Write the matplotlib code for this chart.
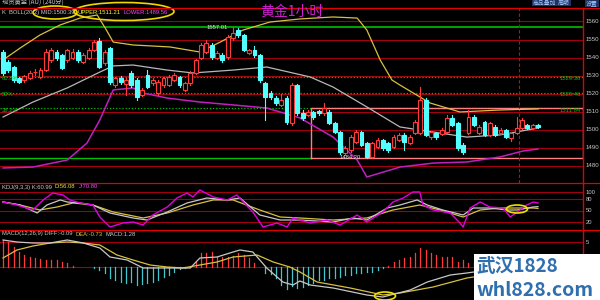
import matplotlib
matplotlib.use('Agg')
import matplotlib.pyplot as plt
from matplotlib.patches import Rectangle, Ellipse

plt.rcParams['font.family'] = ['Noto Sans CJK SC', 'DejaVu Sans']

# ---------------- data ----------------
opens = [1543.1, 1537.6, 1534.8, 1528.7, 1527.6, 1528.7, 1532.0, 1529.3, 1533.1, 1538.7,
         1543.1, 1541.5, 1538.7, 1539.8, 1543.1, 1537.6, 1539.8, 1544.2, 1549.0, 1537.0,
         1545.3, 1524.8, 1528.7, 1525.4, 1531.5, 1527.6, 1519.3, 1530.4, 1526.0, 1520.4,
         1524.8, 1525.0, 1527.6, 1529.3, 1522.1, 1525.9, 1531.5, 1539.8, 1543.1, 1547.0,
         1539.8, 1541.5, 1540.3, 1550.9, 1555.3, 1552.5, 1542.6, 1544.2, 1541.5, 1525.9,
         1520.4, 1517.6, 1513.8, 1517.6, 1503.8, 1524.8, 1509.3, 1508.2, 1509.9, 1510.2,
         1509.3, 1509.9, 1503.8, 1498.8, 1487.2, 1488.8, 1493.3, 1498.8, 1492.7, 1485.0,
         1490.5, 1494.4, 1492.7, 1490.5, 1494.4, 1497.2, 1492.7, 1498.3, 1498.3, 1516.5,
         1496.0, 1498.3, 1497.7, 1498.8, 1506.6, 1503.8, 1491.6, 1498.3, 1507.1, 1498.3,
         1504.4, 1497.2, 1501.6, 1498.3, 1499.9, 1495.5, 1498.3, 1501.0, 1502.7, 1501.0,
         1502.7]
highs = [1544.0, 1538.5, 1535.5, 1529.5, 1530.5, 1532.5, 1533.5, 1534.0, 1544.5, 1545.3,
         1544.0, 1542.0, 1545.0, 1544.5, 1544.0, 1542.5, 1545.3, 1550.0, 1551.0, 1544.0,
         1546.0, 1529.5, 1530.0, 1528.5, 1532.5, 1528.5, 1523.0, 1533.1, 1528.5, 1527.5,
         1529.5, 1530.5, 1531.5, 1530.0, 1526.5, 1532.5, 1539.5, 1548.0, 1549.5, 1548.0,
         1543.5, 1542.5, 1552.5, 1557.01, 1556.5, 1553.0, 1545.0, 1546.5, 1542.0, 1526.5,
         1521.5, 1518.5, 1520.0, 1518.5, 1526.0, 1525.5, 1511.0, 1511.0, 1510.5, 1511.0,
         1514.9, 1511.0, 1504.5, 1499.5, 1491.0, 1497.0, 1500.0, 1499.5, 1493.5, 1493.5,
         1495.5, 1495.0, 1493.5, 1497.0, 1498.5, 1498.0, 1497.0, 1505.5, 1523.7, 1517.5,
         1499.5, 1499.0, 1501.0, 1508.2, 1508.0, 1504.5, 1492.5, 1511.0, 1508.0, 1502.5,
         1505.0, 1504.5, 1502.5, 1501.0, 1500.5, 1499.0, 1507.1, 1506.5, 1503.5, 1503.5,
         1503.0]
lows = [1530.5, 1532.0, 1526.5, 1525.9, 1526.5, 1528.0, 1530.5, 1528.5, 1532.5, 1537.6,
        1538.7, 1533.5, 1537.6, 1539.0, 1537.6, 1537.0, 1539.0, 1543.5, 1534.0, 1536.0,
        1525.5, 1523.5, 1525.5, 1519.3, 1524.0, 1516.5, 1518.5, 1523.0, 1525.0, 1519.5,
        1524.0, 1524.5, 1527.0, 1524.0, 1521.5, 1525.0, 1531.0, 1539.0, 1542.5, 1539.5,
        1539.0, 1537.5, 1539.5, 1550.0, 1551.5, 1543.5, 1542.0, 1540.5, 1526.5, 1505.5,
        1517.0, 1514.0, 1513.0, 1503.5, 1502.5, 1508.0, 1505.5, 1507.5, 1506.0, 1508.5,
        1508.5, 1503.0, 1498.0, 1486.5, 1486.0, 1488.0, 1492.5, 1491.0, 1484.2, 1484.5,
        1490.0, 1489.0, 1488.0, 1490.0, 1494.0, 1488.8, 1492.0, 1497.5, 1497.5, 1496.5,
        1495.0, 1495.0, 1497.0, 1498.0, 1502.0, 1489.0, 1486.5, 1497.5, 1502.0, 1497.5,
        1496.5, 1496.5, 1496.5, 1497.5, 1495.5, 1494.0, 1497.5, 1500.5, 1500.5, 1500.5,
        1501.0]
closes = [1531.5, 1533.1, 1527.6, 1526.5, 1529.8, 1531.5, 1532.2, 1533.1, 1543.1, 1544.2,
          1539.8, 1534.3, 1544.2, 1543.1, 1538.7, 1541.5, 1544.2, 1548.6, 1534.8, 1543.1,
          1526.5, 1528.7, 1526.5, 1527.6, 1524.8, 1518.2, 1522.1, 1523.7, 1527.6, 1526.5,
          1528.7, 1529.3, 1530.4, 1524.8, 1525.9, 1531.5, 1538.7, 1547.0, 1548.1, 1540.3,
          1542.6, 1538.7, 1551.4, 1553.6, 1552.5, 1544.2, 1544.2, 1541.5, 1527.6, 1518.2,
          1518.2, 1514.9, 1516.5, 1504.4, 1524.8, 1509.3, 1506.6, 1509.9, 1507.1, 1509.6,
          1512.1, 1503.8, 1498.8, 1487.7, 1490.0, 1496.0, 1498.8, 1491.6, 1484.9, 1492.7,
          1494.4, 1490.0, 1488.8, 1496.0, 1497.2, 1493.3, 1496.0, 1504.4, 1516.5, 1497.2,
          1498.8, 1496.0, 1499.9, 1506.6, 1502.7, 1490.0, 1487.7, 1507.1, 1502.7, 1501.6,
          1497.2, 1503.8, 1497.2, 1499.9, 1496.0, 1498.3, 1501.0, 1505.5, 1501.0, 1502.7,
          1501.6]

# Bollinger band traces (candle index, price)
upper_idx = [0, 3.2, 6.9, 10.7, 14.4, 17.6, 19.1, 20.6, 24.3, 31.2, 36.8, 40.6, 44.9, 49.9,
             55.5, 61.7, 66.2, 68.0, 70.5, 72.7, 74.2, 79.8, 85.4, 92.9, 100]
upper_val = [1538.7, 1545.3, 1552.5, 1558.1, 1561.9, 1563.6, 1556.4, 1548.6, 1547.0, 1545.9,
             1543.1, 1548.6, 1555.3, 1559.7, 1561.4, 1562.5, 1561.9, 1555.3, 1538.7, 1527.6,
             1524.8, 1514.9, 1509.9, 1511.0, 1511.6]
mid_idx = [0, 5.6, 12.0, 18.1, 20.6, 24.3, 30.7, 35.5, 43.0, 49.3, 57.4, 61.7, 68.0, 74.2,
           80.4, 86.7, 92.9, 100]
mid_val = [1507.1, 1515.4, 1523.2, 1532.0, 1535.4, 1535.9, 1533.1, 1531.5, 1533.1, 1534.8,
           1529.3, 1523.7, 1512.7, 1501.6, 1498.8, 1496.0, 1497.2, 1501.0]
lower_idx = [0, 5.6, 12.0, 15.7, 18.1, 20.6, 24.3, 26.2, 30.7, 36.8, 43.0, 49.3, 55.5, 61.7,
             66.2, 68.0, 74.2, 80.4, 86.7, 92.9, 97.2, 100]
lower_val = [1478.9, 1479.4, 1483.3, 1492.7, 1505.5, 1522.1, 1523.2, 1520.4, 1517.6, 1515.4,
             1513.8, 1512.1, 1506.6, 1496.0, 1483.3, 1473.9, 1479.4, 1481.6, 1482.2, 1485.0,
             1488.3, 1489.4]

fib_high, fib_low = 1557.01, 1484.20
fib_levels = [1529.36, 1520.46, 1511.84]
fib_names = ['61.8%', '50%', '38.2%']
box_top = 1512.0
price_ticks = [1560, 1550, 1540, 1530, 1520, 1510, 1500, 1490, 1480]

# KDJ (candle index, value)
j_idx = [0, 2.6, 5.6, 7.5, 9.3, 11.2, 12.5, 14.4, 16.8, 18.1, 20.0, 22.4, 24.3, 26.2, 28.0,
         30.7, 32.5, 34.4, 35.5, 36.8, 39.3, 41.9, 43.7, 44.9, 46.7, 48.6, 51.2, 53.1, 54.2,
         55.5, 57.4, 60.6, 63.0, 66.2, 68.0, 71.0, 72.9, 74.8, 76.6, 77.9, 78.5, 80.4, 83.6,
         85.4, 86.0, 87.3, 89.2, 91.0, 93.5, 94.8, 96.1, 97.9, 99.1, 100]
j_val = [73.3, 65.3, 52, 78.7, 97.3, 92, 78.7, 70.7, 65.3, 33.3, 6.7, 17.3, 20, 12, 38.7,
         60, 84, 97.3, 86.7, 105.3, 86.7, 78.7, 92, 73.3, 46.7, 6.7, 17.3, 6.7, 30.7,
         25.3, 17.3, 25.3, 12, 38.7, 20, 46.7, 73.3, 84, 100, 100, 65.3, 52, 44,
         17.3, 6.7, 57.3, 73.3, 60, 57.3, 33.3, 46.7, 65.3, 73.3, 70.8]
k_idx = [0, 3.2, 6.4, 8.2, 10.7, 12.0, 14.4, 16.8, 20.0, 24.3, 26.9, 30.7, 34.4, 38.1, 41.9,
         44.3, 48.0, 51.8, 55.5, 61.7, 65.4, 68.0, 71.8, 74.2, 77.4, 79.3, 82.2, 86.0, 87.9,
         91.0, 94.2, 96.1, 99.1, 100]
k_val = [73.3, 65.3, 44, 65.3, 78.7, 73.3, 70.7, 65.3, 44, 30.7, 25.3, 46.7, 70.7, 84, 78.7,
         84, 38.7, 25.3, 25.3, 20, 30.7, 25.3, 57.3, 65.3, 78.7, 65.3, 52, 38.7, 57.3,
         57.3, 52, 52, 60, 60.99]
d_idx = [0, 3.2, 6.9, 10.1, 13.1, 16.8, 20.6, 26.2, 30.7, 35.5, 39.3, 43.0, 48.0, 51.8,
         55.5, 61.7, 68.0, 72.9, 77.9, 81.7, 86.0, 89.2, 92.9, 96.6, 99.1, 100]
d_val = [73.3, 65.3, 52, 60, 70.7, 65.3, 46.7, 30.7, 44, 65.3, 78.7, 78.7, 52, 33.3,
         30.7, 25.3, 30.7, 52, 65.3, 52, 33.3, 52, 57.3, 57.3, 57.3, 56.08]
kdj_ticks = [100, 80, 50, 20]

# MACD
diff_idx = [0, 2.6, 5.6, 8.8, 12.0, 15.0, 18.1, 20.0, 23.2, 26.2, 30.7, 35.0, 36.8, 40.0,
            43.0, 44.3, 46.7, 49.3, 52.3, 54.2, 55.5, 57.4, 61.7, 68.0, 71.0, 76.1, 79.3,
            83.6, 86.7, 88.0, 92.9, 100]
diff_val = [5.4, 5.0, 4.8, 4.8, 5.4, 4.8, 3.8, 2.0, 1.4, -0.2, -0.2, -0.2, 1.8, 2.0,
            3.0, 3.4, 3.0, -0.2, -3.0, -3.6, -2.8, -3.6, -4.2, -5.6, -6.0, -4.6, -3.0,
            -1.6, -1.2, -1.0, -0.5, -0.09]
dea_idx = [0, 2.6, 5.6, 8.8, 12.0, 15.0, 18.1, 21.3, 24.3, 27.5, 30.7, 33.6, 36.8, 40.0,
           43.0, 47.5, 50.5, 53.6, 55.5, 58.7, 64.9, 71.0, 74.2, 80.4, 86.7, 87.9, 92.9, 100]
dea_val = [1.8, 3.4, 4.2, 4.8, 5.0, 4.8, 4.4, 2.4, 1.4, 0.4, 0.0, -0.2, 0.4, 1.0,
           2.0, 2.4, 1.0, 0.0, -1.0, -3.0, -4.2, -5.6, -5.2, -4.0, -2.2, -2.0, -1.2, -0.73]
macd_hist = [5.4, 5.0, 4.0, 3.0, 2.4, 2.0, 1.8, 1.6, 1.4, 1.4,
             1.4, 1.0, 0.8, 0.3, 0.1, 0.1, 0.1, -0.1, -0.6, -1.2,
             -2.2, -2.6, -3.0, -3.2, -3.0, -3.6, -3.4, -3.2, -3.0, -2.6,
             -2.0, -1.6, -1.0, -0.4, -0.2, 0.2, 1.0, 2.8, 2.8, 3.0,
             2.0, 2.0, 2.0, 2.2, 2.8, 2.4, 1.8, 0.8, 0.1, -1.2,
             -1.4, -2.2, -3.6, -4.4, -3.8, -4.2, -4.0, -3.6, -3.2, -2.6,
             -2.6, -2.2, -2.2, -2.0, -1.6, -1.6, -1.2, -1.2, -1.0, -1.0,
             -0.6, -0.2, 0.2, 1.0, 1.4, 1.8, 2.0, 2.8, 3.8, 3.4,
             2.8, 2.4, 2.0, 2.0, 2.0, 1.0, 1.4, 0.8, 1.0, 0.9,
             0.8, 0.9, 0.8, 0.9, 1.0, 1.1, 1.2, 1.3, 1.3, 1.3,
             1.28]
macd_ticks = [5]

# ---------------- layout ----------------
W, H = 600, 300
X0, X1 = -0.561, 108.41          # candle index range for px 0..583
RED_GRID = '#a00010'
RED_AX = '#e00000'
CYAN = '#54ffff'
UPRED = '#ff3a3a'
YEL = '#d8c040'
MAG = '#e000e0'
WHT = '#c8c8c8'
GRN = '#00c000'
SMALL = ['Liberation Sans', 'DejaVu Sans']

fig = plt.figure(figsize=(6, 3), dpi=100)
fig.patch.set_facecolor('black')


def rect(l, t, r, b):
    return [l / W, 1 - b / H, (r - l) / W, (b - t) / H]


ax = fig.add_axes(rect(0, 8, 583, 182.5))
kd = fig.add_axes(rect(0, 182.5, 583, 229.5))
md = fig.add_axes(rect(0, 229.5, 583, 300))
for a in (ax, kd, md):
    a.set_facecolor('black')
    a.axis('off')
    a.set_xlim(X0, X1)
ax.set_ylim(1470.85, 1567.47)
kd.set_ylim(0, 125.3)
md.set_ylim(-6.6, 7.5)

# main panel grid + drawing tools
for p in price_ticks:
    ax.axhline(p, color=RED_GRID, lw=0.8, zorder=1)
ax.axhline(fib_high, color=GRN, lw=1.2, zorder=1)
ax.plot([X0, 57.5], [fib_low, fib_low], color=GRN, lw=1.0, zorder=1)
for lv in fib_levels:
    ax.axhline(lv, color=GRN, lw=0.9, ls=(0, (1, 1.5)), zorder=1)
ax.plot([57.5, 57.5, X1, X1, 57.5], [fib_low, box_top, box_top, fib_low, fib_low],
        color='#ff8080', lw=1.0, zorder=1)
ax.axvline(96.5, color=RED_AX, lw=0.8, ls=(0, (3, 2)), zorder=1)

# bands
ax.plot(upper_idx, upper_val, color=YEL, lw=0.9, zorder=2)
ax.plot(mid_idx, mid_val, color='#b8b8b8', lw=0.9, zorder=2)
ax.plot(lower_idx, lower_val, color='#c020c0', lw=1.1, zorder=2)

# candles
bw = 0.72
for i, (o, h, l, c) in enumerate(zip(opens, highs, lows, closes)):
    up = c >= o
    col = UPRED if up else CYAN
    ax.plot([i, i], [l, h], color=col, lw=0.8, zorder=3)
    lo, hi = min(o, c), max(o, c)
    ax.add_patch(Rectangle((i - bw / 2, lo), bw, max(hi - lo, 0.25),
                           facecolor='black' if up else CYAN, edgecolor=col,
                           lw=0.8, zorder=4))

# KDJ panel
for v in kdj_ticks:
    kd.axhline(v, color=RED_GRID, lw=0.8)
kd.plot(d_idx, d_val, color=YEL, lw=0.9)
kd.plot(k_idx, k_val, color=WHT, lw=0.9)
kd.plot(j_idx, j_val, color=MAG, lw=1.0)

# MACD panel
for v in macd_ticks:
    md.axhline(v, color=RED_GRID, lw=0.8)
md.axhline(0, color=RED_GRID, lw=0.8)
for i, v in enumerate(macd_hist):
    md.plot([i, i], [0, v], color=UPRED if v >= 0 else '#40c8d0', lw=0.9)
md.plot(dea_idx, dea_val, color=YEL, lw=0.9)
md.plot(diff_idx, diff_val, color=WHT, lw=0.9)

# ---------------- overlay (pixel coordinates) ----------------
ov = fig.add_axes([0, 0, 1, 1])
ov.set_xlim(0, W)
ov.set_ylim(H, 0)
ov.axis('off')

for yy in (7.5, 182.5, 229.5):
    ov.plot([0, 600], [yy, yy], color=RED_AX, lw=0.9)
ov.plot([583, 583], [7.5, 300], color=RED_AX, lw=1.0)

renderer = fig.canvas.get_renderer()


def seq(x, y, parts, fs, gap=2.0):
    """Place coloured text pieces one after another (pixel coords)."""
    for txt, col in parts:
        t = ov.text(x, y, txt, color=col, fontsize=fs, va='center', family=SMALL)
        bb = t.get_window_extent(renderer)
        x += bb.width + gap


fs = 4.2
# header
ov.text(2, 2.5, '现货黄金 (AU) (240分)', color='#c0c0c0', fontsize=4.5, va='center')
seq(2, 12.5, [('K', WHT), ('BOLL(20,2) MID:1500.39', WHT), ('UPPER:1511.21', '#ffff40'),
              ('LOWER:1489.56', '#ff40ff')], fs, gap=3)
ov.add_patch(Ellipse((55, 12.5), 44, 13, fill=False, ec='#f0d800', lw=1.2))
ov.add_patch(Ellipse((124, 11.5), 100, 18, fill=False, ec='#f0d800', lw=1.2))
ov.text(292, 12, '黄金1小时', color='#d020d0', fontsize=10, ha='center', va='center')
for tx, xx in (('商品叠加', 533), ('周期', 558), ('设置', 586)):
    ov.text(xx, 3, tx, color='#a0c8ff', fontsize=4.2, va='center',
            bbox=dict(boxstyle='square,pad=0.15', fc='#203060', ec='none'))

# right axis labels
for p in price_ticks:
    yy = 21.5 + (1560 - p) * 1.806
    ov.text(586, yy, str(p), color='#c8c8c8', fontsize=4.4, va='center', family=SMALL)
for v in kdj_ticks:
    yy = 229.5 - 0.375 * v
    ov.text(586, yy, str(v), color='#c8c8c8', fontsize=4.2, va='center', family=SMALL)
ov.text(586, 242, '5', color='#c8c8c8', fontsize=4.2, va='center', family=SMALL)

# tool labels
for lv, nm in zip(fib_levels, fib_names):
    yy = 21.5 + (1560 - lv) * 1.806
    ov.text(2, yy + 2, nm, color=GRN, fontsize=4.2, va='center', family=SMALL)
    ov.text(581, yy + 2, f'{lv:.2f}', color=GRN, fontsize=4.2, va='center', ha='right',
            family=SMALL)
ov.text(207, 27.5, '1557.01', color='#e0e0e0', fontsize=4.2, va='center', family=SMALL)
ov.text(340, 157.5, '1484.20', color='#e0e0e0', fontsize=4.2, va='center', family=SMALL)

# KDJ / MACD headers
seq(2, 187, [('KDJ(9,3,3) K:60.99', WHT), ('D:56.08', '#e8e040'), ('J:70.80', '#ff40ff')],
    fs, gap=3)
seq(2, 234, [('MACD(12,26,9) DIFF:-0.09', WHT), ('DEA:-0.73', '#e8c040'),
             ('MACD:1.28', WHT)], fs, gap=3)

ov.add_patch(Ellipse((517, 209), 21, 8, fill=False, ec='#f0e000', lw=1.2))
ov.add_patch(Ellipse((385, 296), 21, 8, fill=False, ec='#f0e000', lw=1.2))

# watermark
ov.add_patch(Rectangle((474, 254), 126, 46, facecolor='white', edgecolor='none', zorder=5))
ov.text(476, 266, '武汉1828', color='#2f6fae', fontsize=13.5, fontweight='bold',
        va='center', zorder=6)
ov.text(476, 290, 'whl828.com', color='#2f6fae', fontsize=14, fontweight='bold',
        va='center', zorder=6)

fig.savefig('out.png', dpi=100, facecolor='black')
